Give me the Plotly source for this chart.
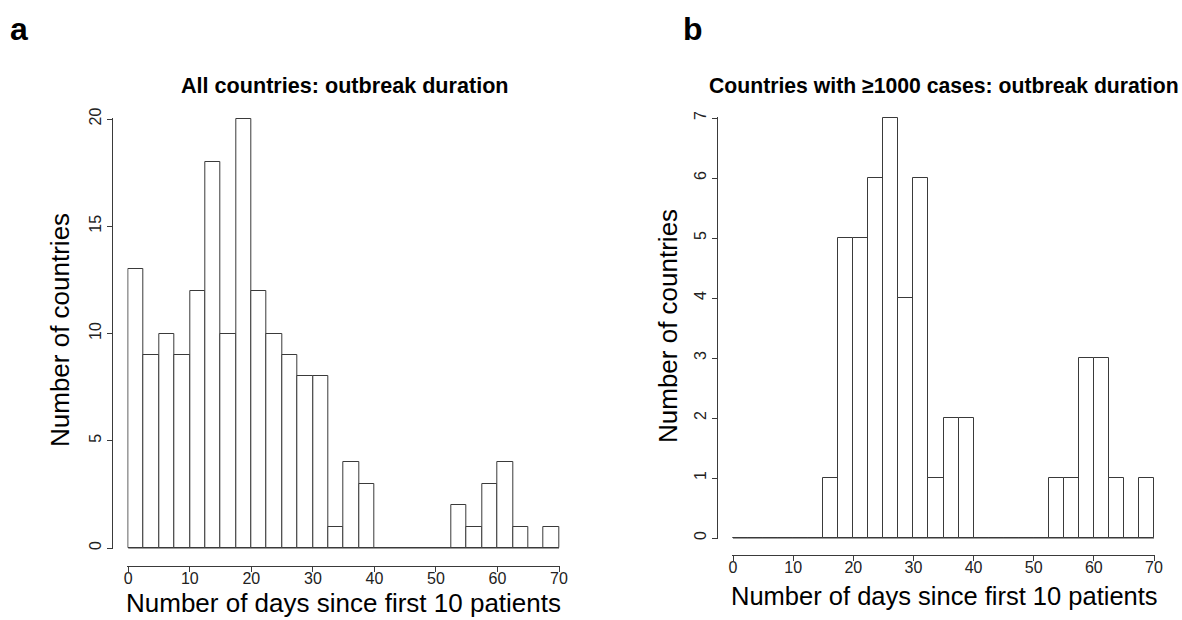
import plotly.graph_objects as go

# ---- data ----
bin_width = 2.5
bin_starts = [i * 2.5 for i in range(28)]  # 0 .. 67.5
counts_all = [13, 9, 10, 9, 12, 18, 10, 20, 12, 10, 9, 8, 8, 1, 4, 3,
              0, 0, 0, 0, 0, 2, 1, 3, 4, 1, 0, 1]
counts_big = [0, 0, 0, 0, 0, 0, 1, 5, 5, 6, 7, 4, 6, 1, 2, 2,
              0, 0, 0, 0, 0, 1, 1, 3, 3, 1, 0, 1]
x_ticks = [0, 10, 20, 30, 40, 50, 60, 70]
y_ticks_a = [0, 5, 10, 15, 20]
y_ticks_b = [0, 1, 2, 3, 4, 5, 6, 7]
title_a = "All countries: outbreak duration"
title_b = "Countries with ≥1000 cases: outbreak duration"
x_title = "Number of days since first 10 patients"
y_title = "Number of countries"

W, H = 1182, 620
FONT = "Liberation Sans, Arial, Helvetica, sans-serif"
LINE = "#3a3a3a"

def px(x):
    return x / W

def py(y):
    return 1 - y / H

centers = [s + bin_width / 2 for s in bin_starts]
edge_min = bin_starts[0]
edge_max = bin_starts[-1] + bin_width

fig = go.Figure()

for counts, xa, ya in [(counts_all, "x", "y"), (counts_big, "x2", "y2")]:
    fig.add_trace(go.Bar(
        x=centers, y=counts, width=bin_width,
        marker=dict(color="white", line=dict(color=LINE, width=1)),
        xaxis=xa, yaxis=ya, showlegend=False, hoverinfo="x+y"))
    fig.add_trace(go.Scatter(
        x=[edge_min, edge_max], y=[0, 0], mode="lines",
        line=dict(color=LINE, width=1), xaxis=xa, yaxis=ya,
        cliponaxis=False, showlegend=False, hoverinfo="skip"))

tickfont = dict(family=FONT, size=16, color="#222")
PAD = 1.0  # px of padding so edge strokes are not clipped

def xaxis_cfg(p0, p1, v0, v1, ypos):
    k = (v1 - v0) / (p1 - p0)
    return dict(domain=[px(p0 - PAD), px(p1 + PAD)],
                range=[v0 - PAD * k, v1 + PAD * k], anchor="free",
                position=py(ypos), showline=True, linecolor=LINE, linewidth=1,
                ticks="outside", ticklen=5, tickcolor=LINE, tickvals=x_ticks,
                ticklabelstandoff=-7,
                tickfont=tickfont, showgrid=False, zeroline=False,
                fixedrange=True, automargin=False)

def yaxis_cfg(p0, p1, v0, v1, tv, xpos):
    # p0: pixel of v0 (bottom), p1: pixel of v1 (top)
    k = (v1 - v0) / (p0 - p1)
    return dict(domain=[py(p0 + PAD), py(p1 - PAD)],
                range=[v0 - PAD * k, v1 + PAD * k], anchor="free",
                position=px(xpos), showline=True, linecolor=LINE, linewidth=1,
                ticks="outside", ticklen=5, tickcolor=LINE, tickvals=tv,
                tickangle=-90, tickfont=tickfont, showgrid=False,
                zeroline=False, fixedrange=True, automargin=False)

fig.update_layout(
    width=W, height=H,
    margin=dict(l=0, r=0, t=0, b=0, autoexpand=False),
    paper_bgcolor="white", plot_bgcolor="rgba(0,0,0,0)",
    bargap=0,
    xaxis=xaxis_cfg(128.3, 559, 0, 70, 566),
    yaxis=yaxis_cfg(548, 119, 0, 20, y_ticks_a, 112),
    xaxis2=xaxis_cfg(733, 1154, 0, 70, 555),
    yaxis2=yaxis_cfg(538, 118, 0, 7, y_ticks_b, 717),
)

anns = [
    dict(text="<b>a</b>", x=px(19), y=py(29), size=32),
    dict(text="<b>b</b>", x=px(693), y=py(29), size=32),
    dict(text="<b>" + title_a + "</b>", x=px(345), y=py(86), size=21.6),
    dict(text="<b>" + title_b + "</b>", x=px(943.5), y=py(86), size=21.2),
    dict(text=x_title, x=px(343), y=py(603), size=26),
    dict(text=x_title, x=px(944), y=py(596), size=25.5),
    dict(text=y_title, x=px(60), y=py(330), size=26, angle=-90),
    dict(text=y_title, x=px(668), y=py(326), size=26, angle=-90),
]
for a in anns:
    fig.add_annotation(
        text=a["text"], x=a["x"], y=a["y"], xref="paper", yref="paper",
        xanchor="center", yanchor="middle", showarrow=False,
        textangle=a.get("angle", 0),
        font=dict(family=FONT, size=a["size"], color="black"))

fig.write_html("out.html")
